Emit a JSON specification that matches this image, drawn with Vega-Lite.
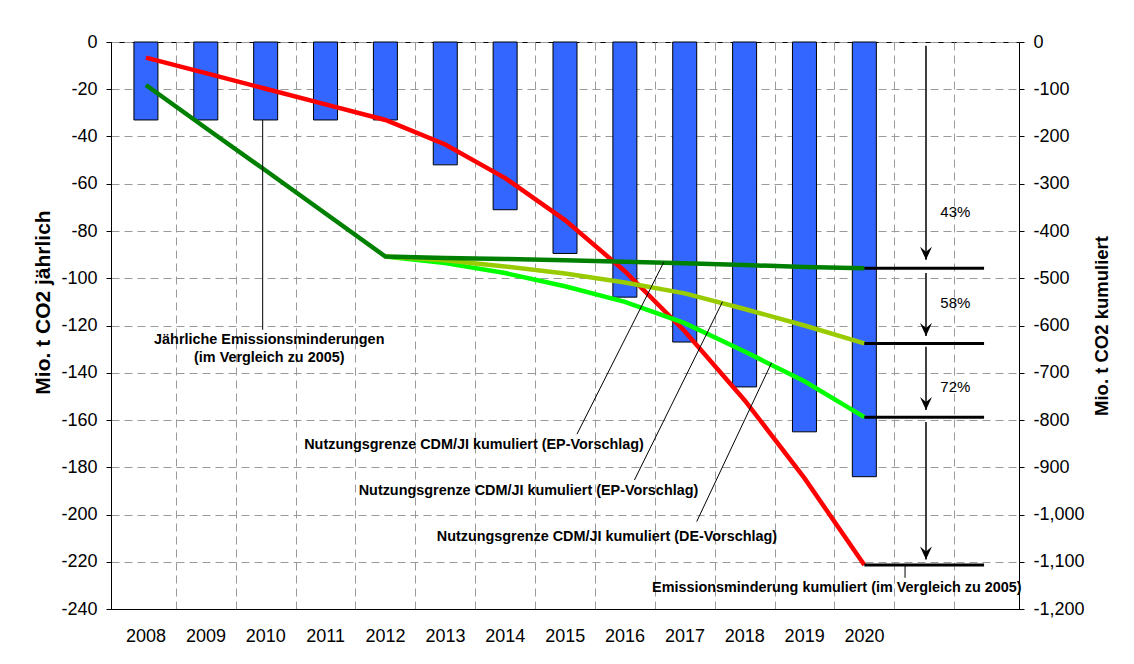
{
  "$schema": "https://vega.github.io/schema/vega-lite/v6.json",
  "width": 908,
  "height": 567,
  "autosize": {"type": "none"},
  "padding": {"left": 111, "top": 42, "right": 115, "bottom": 55},
  "background": "#ffffff",
  "config": {
    "locale": {"number": {"decimal": ".", "thousands": ",", "grouping": [3], "currency": ["$", ""], "minus": "-"}},
    "font": "Liberation Sans",
    "view": {"stroke": "#000000", "strokeWidth": 1},
    "axis": {
      "labelFont": "Liberation Sans", "labelFontSize": 18, "labelColor": "#000000",
      "titleFont": "Liberation Sans", "titleColor": "#000000",
      "domainColor": "#000000", "tickColor": "#000000",
      "gridColor": "#9a9a9a", "gridDash": [8, 5], "gridWidth": 1
    }
  },
  "datasets": {
    "bars": [
      {"year": 2008, "v": -33}, {"year": 2009, "v": -33}, {"year": 2010, "v": -33},
      {"year": 2011, "v": -33}, {"year": 2012, "v": -33}, {"year": 2013, "v": -52},
      {"year": 2014, "v": -71}, {"year": 2015, "v": -89.5}, {"year": 2016, "v": -108},
      {"year": 2017, "v": -127}, {"year": 2018, "v": -146}, {"year": 2019, "v": -165},
      {"year": 2020, "v": -184}
    ],
    "lines": [
      {"s": "Emissionsminderung kumuliert", "year": 2008, "c": -33},
      {"s": "Emissionsminderung kumuliert", "year": 2009, "c": -66},
      {"s": "Emissionsminderung kumuliert", "year": 2010, "c": -99},
      {"s": "Emissionsminderung kumuliert", "year": 2011, "c": -132},
      {"s": "Emissionsminderung kumuliert", "year": 2012, "c": -165},
      {"s": "Emissionsminderung kumuliert", "year": 2013, "c": -217},
      {"s": "Emissionsminderung kumuliert", "year": 2014, "c": -288},
      {"s": "Emissionsminderung kumuliert", "year": 2015, "c": -377},
      {"s": "Emissionsminderung kumuliert", "year": 2016, "c": -485},
      {"s": "Emissionsminderung kumuliert", "year": 2017, "c": -612},
      {"s": "Emissionsminderung kumuliert", "year": 2018, "c": -758},
      {"s": "Emissionsminderung kumuliert", "year": 2019, "c": -923},
      {"s": "Emissionsminderung kumuliert", "year": 2020, "c": -1107},
      {"s": "DE-Vorschlag", "year": 2012, "c": -454},
      {"s": "DE-Vorschlag", "year": 2013, "c": -468},
      {"s": "DE-Vorschlag", "year": 2014, "c": -489},
      {"s": "DE-Vorschlag", "year": 2015, "c": -517},
      {"s": "DE-Vorschlag", "year": 2016, "c": -550},
      {"s": "DE-Vorschlag", "year": 2017, "c": -595},
      {"s": "DE-Vorschlag", "year": 2018, "c": -655},
      {"s": "DE-Vorschlag", "year": 2019, "c": -718},
      {"s": "DE-Vorschlag", "year": 2020, "c": -794},
      {"s": "EP-Vorschlag 58", "year": 2012, "c": -454},
      {"s": "EP-Vorschlag 58", "year": 2013, "c": -462},
      {"s": "EP-Vorschlag 58", "year": 2014, "c": -475},
      {"s": "EP-Vorschlag 58", "year": 2015, "c": -490},
      {"s": "EP-Vorschlag 58", "year": 2016, "c": -509},
      {"s": "EP-Vorschlag 58", "year": 2017, "c": -532},
      {"s": "EP-Vorschlag 58", "year": 2018, "c": -565},
      {"s": "EP-Vorschlag 58", "year": 2019, "c": -600},
      {"s": "EP-Vorschlag 58", "year": 2020, "c": -638},
      {"s": "EP-Vorschlag 43", "year": 2008, "c": -91},
      {"s": "EP-Vorschlag 43", "year": 2009, "c": -182},
      {"s": "EP-Vorschlag 43", "year": 2010, "c": -272},
      {"s": "EP-Vorschlag 43", "year": 2011, "c": -363},
      {"s": "EP-Vorschlag 43", "year": 2012, "c": -454},
      {"s": "EP-Vorschlag 43", "year": 2013, "c": -457},
      {"s": "EP-Vorschlag 43", "year": 2014, "c": -459},
      {"s": "EP-Vorschlag 43", "year": 2015, "c": -462},
      {"s": "EP-Vorschlag 43", "year": 2016, "c": -465},
      {"s": "EP-Vorschlag 43", "year": 2017, "c": -468},
      {"s": "EP-Vorschlag 43", "year": 2018, "c": -472},
      {"s": "EP-Vorschlag 43", "year": 2019, "c": -476},
      {"s": "EP-Vorschlag 43", "year": 2020, "c": -479}
    ],
    "levels": [
      {"x": 2020, "x2": 2022, "c": -479},
      {"x": 2020, "x2": 2022, "c": -638},
      {"x": 2020, "x2": 2022, "c": -794},
      {"x": 2020, "x2": 2022, "c": -1107}
    ],
    "arrows": [
      {"x": 2021.03, "c": -8, "c2": -461},
      {"x": 2021.03, "c": -489, "c2": -622},
      {"x": 2021.03, "c": -645, "c2": -779},
      {"x": 2021.03, "c": -804, "c2": -1095}
    ],
    "pct": [
      {"x": 2021.52, "c": -360, "t": "43%"},
      {"x": 2021.52, "c": -552, "t": "58%"},
      {"x": 2021.52, "c": -730, "t": "72%"}
    ],
    "leaders": [
      {"x": 2009.95, "c": -165, "x2": 2009.95, "c2": -609},
      {"x": 2015.2, "c": -830, "x2": 2016.65, "c2": -466},
      {"x": 2016.16, "c": -927, "x2": 2017.63, "c2": -550},
      {"x": 2017.2, "c": -1015, "x2": 2018.45, "c2": -679},
      {"x": 2020.68, "c": -1105, "x2": 2020.68, "c2": -1134}
    ],
    "notes": [
      {"x": 2010.06, "c": -631, "t": "Jährliche Emissionsminderungen"},
      {"x": 2010.06, "c": -669, "t": "(im Vergleich zu 2005)"},
      {"x": 2013.48, "c": -853, "t": "Nutzungsgrenze CDM/JI kumuliert (EP-Vorschlag)"},
      {"x": 2014.39, "c": -950, "t": "Nutzungsgrenze CDM/JI kumuliert (EP-Vorschlag)"},
      {"x": 2015.7, "c": -1047, "t": "Nutzungsgrenze CDM/JI kumuliert (DE-Vorschlag)"},
      {"x": 2019.54, "c": -1155, "t": "Emissionsminderung kumuliert (im Vergleich zu 2005)"}
    ]
  },
  "layer": [
    {
      "data": {"name": "bars"},
      "mark": {"type": "bar", "size": 24, "color": "#3366FF", "stroke": "#000000", "strokeWidth": 1},
      "encoding": {
        "x": {
          "field": "year", "type": "quantitative",
          "scale": {"domain": [2007.5, 2022.5], "nice": false, "zero": false},
          "axis": {
            "title": null,
            "values": [2008.5, 2009.5, 2010.5, 2011.5, 2012.5, 2013.5, 2014.5, 2015.5, 2016.5, 2017.5, 2018.5, 2019.5, 2020.5, 2021.5],
            "labelExpr": "datum.value > 2021 ? '' : format(datum.value - 0.5, 'd')",
            "labelOffset": -30.27,
            "labelPadding": 18,
            "labelFlush": false,
            "labelOverlap": false,
            "ticks": false,
            "grid": true
          }
        },
        "y": {
          "field": "v", "type": "quantitative",
          "scale": {"domain": [-240, 0], "nice": false},
          "axis": {
            "orient": "left",
            "title": "Mio. t CO2 jährlich",
            "titleFontSize": 21,
            "titleFontWeight": "bold",
            "titlePadding": 7,
            "titleY": 260,
            "values": [0, -20, -40, -60, -80, -100, -120, -140, -160, -180, -200, -220, -240],
            "tickSize": 5,
            "labelPadding": 9,
            "grid": true
          }
        }
      }
    },
    {
      "layer": [
        {
          "data": {"name": "lines"},
          "mark": {"type": "line", "strokeWidth": 4.5},
          "encoding": {
            "x": {"field": "year", "type": "quantitative", "scale": {"domain": [2007.5, 2022.5], "nice": false, "zero": false}},
            "y": {
              "field": "c", "type": "quantitative",
              "scale": {"domain": [-1200, 0], "nice": false},
              "axis": {
                "orient": "right",
                "title": "Mio. t CO2 kumuliert",
                "titleFontSize": 18.5,
                "titleFontWeight": "bold",
                "titleAngle": -90,
                "titleBaseline": "top",
                "titlePadding": 8,
                "values": [0, -100, -200, -300, -400, -500, -600, -700, -800, -900, -1000, -1100, -1200],
                "format": ",d",
                "labelExpr": "format(datum.value, ',d')",
                "tickSize": 5,
                "labelPadding": 9,
                "grid": false
              }
            },
            "color": {
              "field": "s", "type": "nominal",
              "scale": {
                "domain": ["Emissionsminderung kumuliert", "DE-Vorschlag", "EP-Vorschlag 58", "EP-Vorschlag 43"],
                "range": ["#FF0000", "#00FF00", "#99CC00", "#008000"]
              },
              "legend": null
            }
          }
        },
        {
          "data": {"name": "levels"},
          "mark": {"type": "rule", "color": "#000000", "strokeWidth": 3},
          "encoding": {
            "x": {"field": "x", "type": "quantitative", "scale": {"domain": [2007.5, 2022.5], "nice": false, "zero": false}},
            "x2": {"field": "x2"},
            "y": {"field": "c", "type": "quantitative", "scale": {"domain": [-1200, 0], "nice": false}}
          }
        },
        {
          "data": {"name": "arrows"},
          "mark": {"type": "rule", "color": "#000000", "strokeWidth": 1.5},
          "encoding": {
            "x": {"field": "x", "type": "quantitative", "scale": {"domain": [2007.5, 2022.5], "nice": false, "zero": false}},
            "y": {"field": "c", "type": "quantitative", "scale": {"domain": [-1200, 0], "nice": false}},
            "y2": {"field": "c2"}
          }
        },
        {
          "data": {"name": "arrows"},
          "mark": {"type": "point", "shape": "M0,0L-6,-13L0,-8L6,-13Z", "size": 4, "filled": true, "color": "#000000", "opacity": 1, "strokeWidth": 0},
          "encoding": {
            "x": {"field": "x", "type": "quantitative", "scale": {"domain": [2007.5, 2022.5], "nice": false, "zero": false}},
            "y": {"field": "c2", "type": "quantitative", "scale": {"domain": [-1200, 0], "nice": false}}
          }
        },
        {
          "data": {"name": "leaders"},
          "mark": {"type": "rule", "color": "#000000", "strokeWidth": 1},
          "encoding": {
            "x": {"field": "x", "type": "quantitative", "scale": {"domain": [2007.5, 2022.5], "nice": false, "zero": false}},
            "y": {"field": "c", "type": "quantitative", "scale": {"domain": [-1200, 0], "nice": false}},
            "x2": {"field": "x2"},
            "y2": {"field": "c2"}
          }
        },
        {
          "data": {"name": "pct"},
          "mark": {"type": "text", "font": "Liberation Sans", "fontSize": 15, "color": "#000000", "align": "center", "baseline": "middle"},
          "encoding": {
            "x": {"field": "x", "type": "quantitative", "scale": {"domain": [2007.5, 2022.5], "nice": false, "zero": false}},
            "y": {"field": "c", "type": "quantitative", "scale": {"domain": [-1200, 0], "nice": false}},
            "text": {"field": "t"}
          }
        },
        {
          "data": {"name": "notes"},
          "mark": {"type": "text", "font": "Liberation Sans", "fontSize": 14.4, "fontWeight": "bold", "color": "#000000", "align": "center", "baseline": "middle"},
          "encoding": {
            "x": {"field": "x", "type": "quantitative", "scale": {"domain": [2007.5, 2022.5], "nice": false, "zero": false}},
            "y": {"field": "c", "type": "quantitative", "scale": {"domain": [-1200, 0], "nice": false}},
            "text": {"field": "t"}
          }
        }
      ]
    }
  ],
  "resolve": {"scale": {"y": "independent"}, "axis": {"y": "independent"}}
}
